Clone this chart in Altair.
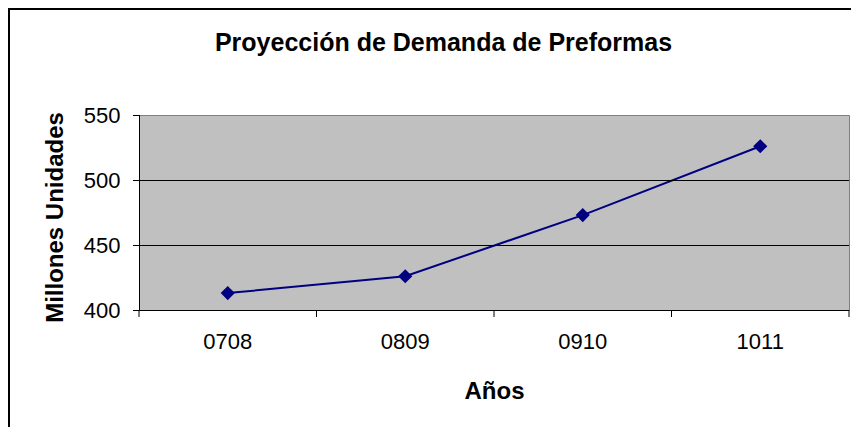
import altair as alt
import pandas as pd

years = ["0708", "0809", "0910", "1011"]
demand = [413, 426, 473, 526]
title_text = "Proyección de Demanda de Preformas"
y_ticks = [400, 450, 500, 550]
grid_values = [450, 500]

df = pd.DataFrame({"Año": years, "Demanda": demand})

W, H = 710, 195
y_scale = alt.Scale(domain=[400, 550], nice=False, zero=False)
x_scale = alt.Scale(paddingInner=0, paddingOuter=0)

x_axis = alt.Axis(
    title="Años",
    labelAngle=0,
    labelFont="Liberation Sans",
    labelFontSize=22,
    labelColor="black",
    labelPadding=21,
    ticks=False,
    domain=False,
    titleFont="Liberation Sans",
    titleFontSize=24,
    titleFontWeight="bold",
    titleColor="black",
    titleBaseline="alphabetic",
    titleX=W / 2,
    titleY=88,
    grid=False,
)
y_axis = alt.Axis(
    title="Millones Unidades",
    values=y_ticks,
    grid=False,
    labelFont="Liberation Sans",
    labelFontSize=22,
    labelColor="black",
    labelPadding=19,
    ticks=False,
    domain=False,
    titleFont="Liberation Sans",
    titleFontSize=24,
    titleFontWeight="bold",
    titleColor="black",
    titleAngle=-90,
    titleBaseline="alphabetic",
    titleAlign="center",
    titleX=-77,
    titleY=102,
)

x_enc = alt.X("Año:N", sort=years, scale=x_scale, axis=x_axis)
y_enc = alt.Y("Demanda:Q", scale=y_scale, axis=y_axis)

grid = alt.Chart(pd.DataFrame({"Demanda": grid_values})).mark_rule(
    color="black", strokeWidth=1, yOffset=0.5
).encode(y=y_enc)

# axis lines
y_domain = alt.Chart(alt.Data(values=[{}])).mark_rule(
    color="black", strokeWidth=1, xOffset=0.5, clip=False
).encode(x=alt.value(0), y=alt.value(0), y2=alt.value(H))
x_domain = alt.Chart(alt.Data(values=[{}])).mark_rule(
    color="black", strokeWidth=1, yOffset=0.5, clip=False
).encode(y=alt.value(H), x=alt.value(0), x2=alt.value(W))

# tick marks
y_tick_marks = alt.Chart(pd.DataFrame({"Demanda": y_ticks})).mark_rule(
    color="black", strokeWidth=1, yOffset=0.5, clip=False
).encode(y=y_enc, x=alt.value(-6), x2=alt.value(0))
x_tick_marks = alt.Chart(df).mark_rule(
    color="black", strokeWidth=1, clip=False
).encode(
    x=alt.X("Año:N", sort=years, scale=x_scale, axis=x_axis, bandPosition=0),
    y=alt.value(H), y2=alt.value(H + 7),
)
x_tick_end = alt.Chart(alt.Data(values=[{}])).mark_rule(
    color="black", strokeWidth=1, clip=False
).encode(x=alt.value(W), y=alt.value(H), y2=alt.value(H + 7))

line = alt.Chart(df).mark_line(color="#000080", strokeWidth=2).encode(x=x_enc, y=y_enc)
points = alt.Chart(df).mark_point(
    shape="diamond", filled=True, size=200, color="#000080", opacity=1
).encode(x=x_enc, y=y_enc)

title = alt.Chart(alt.Data(values=[{"t": title_text}])).mark_text(
    font="Liberation Sans", fontSize=25, fontWeight="bold", color="black",
    align="center", baseline="alphabetic", clip=False
).encode(text="t:N", x=alt.value(304.5), y=alt.value(-64))

border = alt.Chart(alt.Data(values=[{}])).mark_rect(
    fill="transparent", stroke="black", strokeWidth=2, clip=False
).encode(
    x=alt.value(-130), x2=alt.value(W + 200), y=alt.value(-106), y2=alt.value(H + 200)
)

chart = alt.layer(
    line, grid, y_domain, x_domain, y_tick_marks, x_tick_marks, x_tick_end, points, title, border
).properties(
    width=W,
    height=H,
    padding={"left": 131, "top": 107, "right": 2, "bottom": 117},
    autosize=alt.AutoSizeParams(type="none"),
).configure(
    background="white"
).configure_view(
    fill="#C0C0C0", stroke="#808080", strokeWidth=1
)

chart.save("out.html", embed_options={"renderer": "svg", "actions": False})
